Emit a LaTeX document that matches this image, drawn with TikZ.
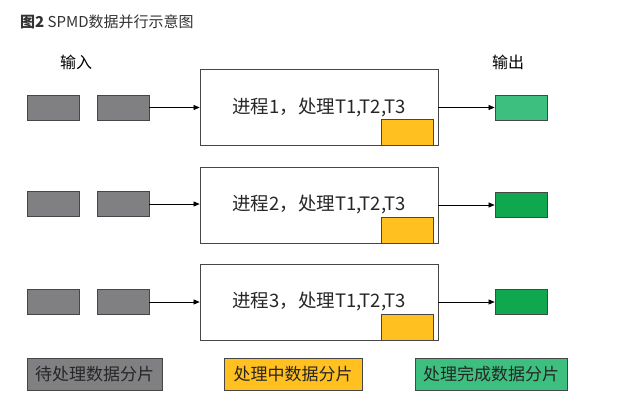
\documentclass[tikz,border=0pt]{standalone}
\usepackage{fontspec}
\setmainfont{Noto Sans CJK SC}
\usepackage{xcolor}
\usetikzlibrary{positioning,arrows.meta}
\definecolor{pendgray}{RGB}{128,128,130}
\definecolor{busyyellow}{RGB}{255,192,32}
\definecolor{donelight}{RGB}{61,191,127}
\definecolor{donedark}{RGB}{16,168,78}
\definecolor{edgegray}{RGB}{70,70,70}

\begin{document}
\begin{tikzpicture}[
  x=1pt, y=-1pt,
  font=\fontsize{16}{18}\selectfont,
  chunk/.style={draw=edgegray, line width=0.8pt, minimum width=52pt,
                minimum height=25pt, inner sep=0pt},
  pending/.style={chunk, fill=pendgray},
  busy/.style={chunk, fill=busyyellow, minimum height=26pt},
  done/.style={chunk, fill=donedark},
  proc/.style={draw=edgegray, line width=0.8pt, fill=white, minimum width=238pt,
               minimum height=76pt, inner sep=0pt, text=black!85,
               font=\fontsize{18.5}{20}\selectfont},
  legend/.style={draw=edgegray, line width=0.8pt, minimum height=32pt,
                 inner sep=0pt, text=black!85, font=\fontsize{17}{19}\selectfont},
  arr/.style={-{Triangle[length=6pt,width=5pt]}, line width=0.6pt}
]
  \useasboundingbox[fill=white] (0,0) rectangle (640,402);

  % title and column heads
  \node[anchor=west, inner sep=0pt, text=black!80,
        font=\fontsize{15}{17}\selectfont] (title) at (20,22)
    {\textbf{图2} SPMD数据并行示意图};
  \node (inlabel) at (76,62) {输入};
  \node (outlabel) at (508,62) {输出};

  % process 1
  \node[pending] (in1a) at (53,107.5) {};
  \node[pending] (in1b) at (123,107.5) {};
  \node[proc] (proc1) at (319,107.5) {进程1，处理T1,T2,T3};
  \node[busy, anchor=south east] (busy1) at ([xshift=-5pt]proc1.south east) {};
  \node[done, fill=donelight] (out1) at (521,107.5) {};
  \draw[arr] (in1b) -- (proc1);
  \draw[arr] (proc1) -- (out1);

  % process 2
  \node[pending] (in2a) at (53,204) {};
  \node[pending] (in2b) at (123,204) {};
  \node[proc] (proc2) at (319,205) {进程2，处理T1,T2,T3};
  \node[busy, anchor=south east] (busy2) at ([xshift=-5pt]proc2.south east) {};
  \node[done] (out2) at (521,205) {};
  \draw[arr] (in2b.east) -- (in2b.east -| proc2.west);
  \draw[arr] (proc2) -- (out2);

  % process 3
  \node[pending] (in3a) at (53,302) {};
  \node[pending] (in3b) at (123,302) {};
  \node[proc] (proc3) at (319,302) {进程3，处理T1,T2,T3};
  \node[busy, anchor=south east] (busy3) at ([xshift=-5pt]proc3.south east) {};
  \node[done] (out3) at (521,302) {};
  \draw[arr] (in3b) -- (proc3);
  \draw[arr] (proc3) -- (out3);

  % legend
  \node[legend, fill=pendgray, minimum width=135pt] (legpend) at (94.5,374) {待处理数据分片};
  \node[legend, fill=busyyellow, minimum width=138pt] (legbusy) at (293,374) {处理中数据分片};
  \node[legend, fill=donelight, minimum width=152pt] (legdone) at (491,374) {处理完成数据分片};
\end{tikzpicture}
\end{document}
